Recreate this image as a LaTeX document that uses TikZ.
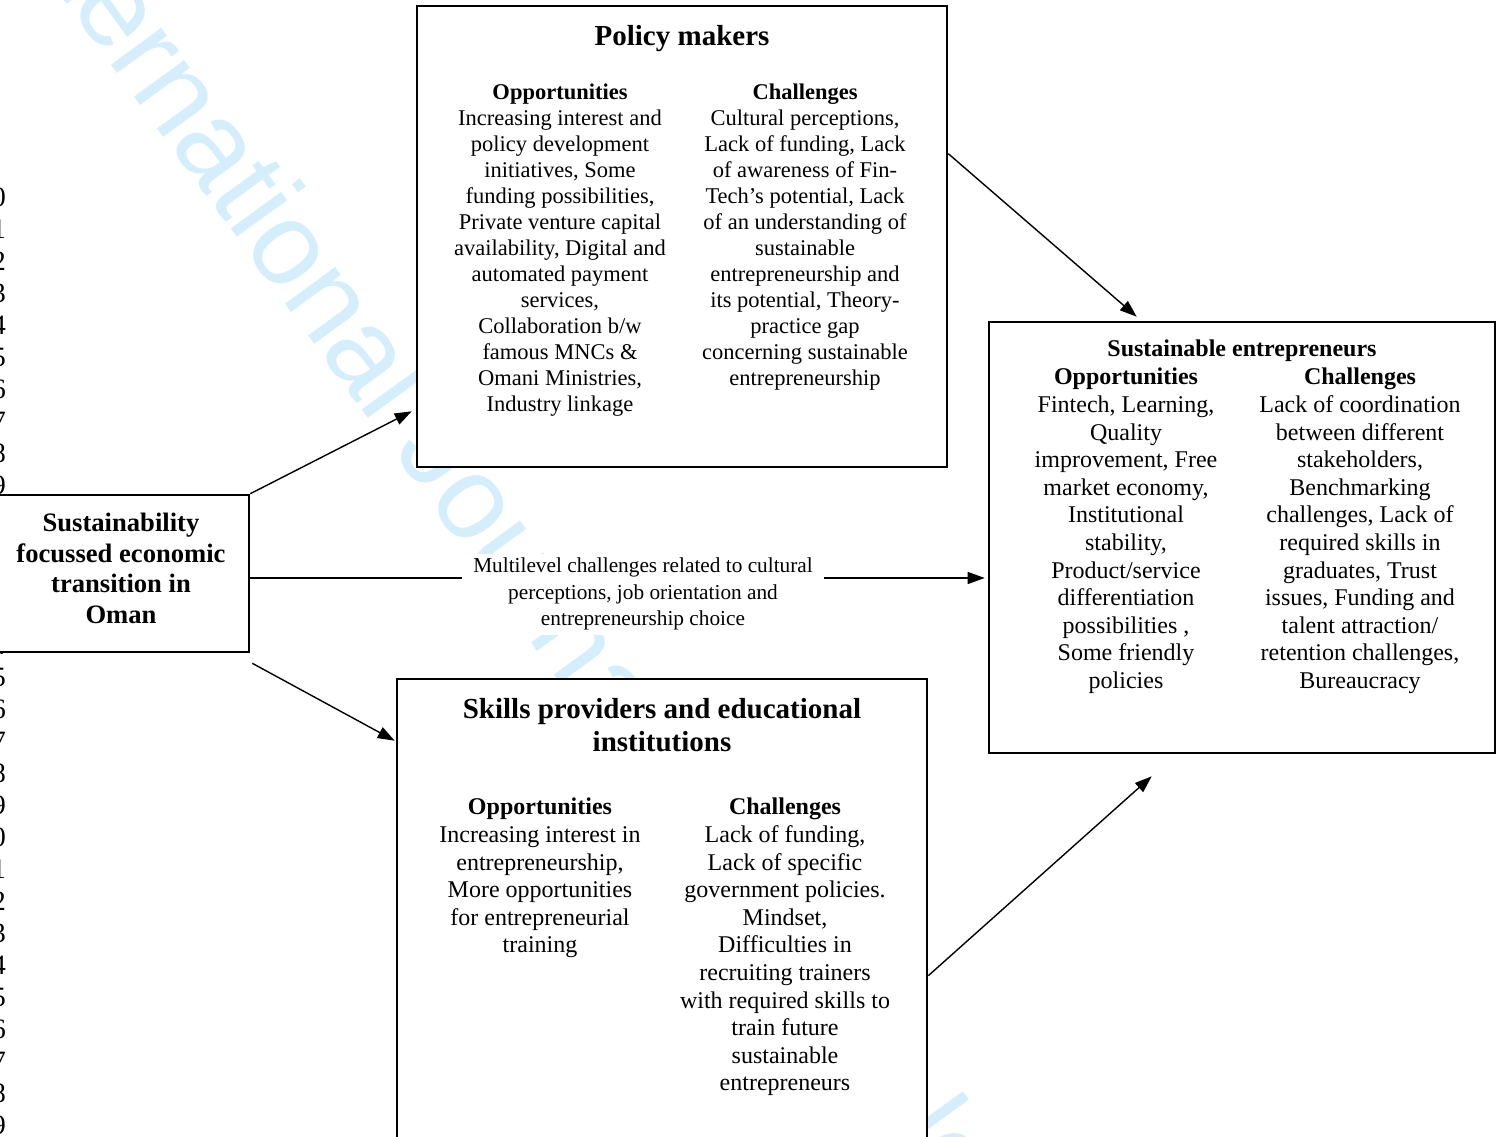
\documentclass[tikz,border=0pt]{standalone}
\usepackage{fontspec}
\setmainfont{Liberation Serif}
\newfontfamily\wmfont{Liberation Sans}
\usetikzlibrary{arrows.meta,calc}
\definecolor{wmblue}{RGB}{213,238,251}
\begin{document}
\begin{tikzpicture}[x=1pt,y=-1pt,
  box/.style={draw,line width=2.6pt,fill=white,inner sep=0},
  col/.style={align=center,inner sep=0,anchor=north},
  fpol/.style={font=\fontsize{22.5}{26}\selectfont},
  fbig/.style={font=\fontsize{24}{27.6}\selectfont},
  ftitle/.style={font=\bfseries\fontsize{29}{33}\selectfont},
  conn/.style={line width=1.4pt,-{Triangle[length=17pt,width=12pt]}},
  plain/.style={line width=1.4pt}]
\useasboundingbox (0,0) rectangle (1501,1137);
\clip (0,0) rectangle (1501,1137);
% watermark
\node[anchor=base west,rotate=-54,text=wmblue,inner sep=0,
  font=\wmfont\fontsize{118}{118}\selectfont] (wm) at (-9,-101)
  {International Journal of Sociology and Social Policy};
% line numbers
\foreach \i in {0,...,29}{
  \pgfmathtruncatemacro\d{mod(\i,10)}
  \node[anchor=east,inner sep=0,font=\fontsize{28}{28}\selectfont] (ln\i) at (6,{197+32*\i}) {\d};
}
% boxes
\node[box,minimum width=530pt,minimum height=461pt] (pm) at (682,236.5) {};
\node[box,minimum width=506pt,minimum height=431pt] (se) at (1242,537.5) {};
\node[box,minimum width=530pt,minimum height=481pt] (sk) at (662,919.5) {};
\node[box,minimum width=254pt,minimum height=157pt] (lb) at (122,573.5) {};
% policy makers
\node[col,ftitle] (pmt) at (682,24.7) {Policy makers};
\node[col,fpol] (pmo) at (560,83.6) {\textbf{Opportunities}\\Increasing interest and\\policy development\\initiatives, Some\\funding possibilities,\\Private venture capital\\availability, Digital and\\automated payment\\services,\\Collaboration b/w\\famous MNCs \&\\Omani Ministries,\\Industry linkage};
\node[col,fpol] (pmc) at (805,83.6) {\textbf{Challenges}\\Cultural perceptions,\\Lack of funding, Lack\\of awareness of Fin-\\Tech’s potential, Lack\\of an understanding of\\sustainable\\entrepreneurship and\\its potential, Theory-\\practice gap\\concerning sustainable\\entrepreneurship};
% sustainable entrepreneurs
\node[col,fbig] (set) at (1242,340) {\textbf{Sustainable entrepreneurs}};
\node[col,fbig] (seo) at (1126,368) {\textbf{Opportunities}\\Fintech, Learning,\\Quality\\improvement, Free\\market economy,\\Institutional\\stability,\\Product/service\\differentiation\\possibilities ,\\Some friendly\\policies};
\node[col,fbig] (sec) at (1360,368) {\textbf{Challenges}\\Lack of coordination\\between different\\stakeholders,\\Benchmarking\\challenges, Lack of\\required skills in\\graduates, Trust\\issues, Funding and\\talent attraction/\\retention challenges,\\Bureaucracy};
% skills providers
\node[col,ftitle] (skt) at (662,697.7) {Skills providers and educational\\institutions};
\node[col,fbig] (sko) at (540,798) {\textbf{Opportunities}\\Increasing interest in\\entrepreneurship,\\More opportunities\\for entrepreneurial\\training};
\node[col,fbig] (skc) at (785,798) {\textbf{Challenges}\\Lack of funding,\\Lack of specific\\government policies.\\Mindset,\\Difficulties in\\recruiting trainers\\with required skills to\\train future\\sustainable\\entrepreneurs};
% left box
\node[col,font=\bfseries\fontsize{26.6}{30.7}\selectfont] (lbt) at (121,512.8) {Sustainability\\focussed economic\\transition in\\Oman};
% middle label
\node[align=center,anchor=north,fill=white,inner xsep=11pt,inner ysep=4pt,
  font=\fontsize{21.3}{26.5}\selectfont] (lab) at (643,554)
  {Multilevel challenges related to cultural\\perceptions, job orientation and\\entrepreneurship choice};
% connectors
\coordinate (mid) at (0,578);
\draw[plain] (lb.east |- mid) -- (lab.west |- mid);
\draw[conn] (lab.east |- mid) -- ([xshift=-3pt]se.west |- mid);
\draw[conn] (lb.north east) -- ([xshift=-4pt,yshift=57pt]pm.south west);
\draw[conn] ([xshift=2pt,yshift=-10pt]lb.south east) -- ([xshift=-1pt,yshift=-63pt]sk.north west);
\draw[conn] ([yshift=-149pt]pm.north east) -- ([xshift=149pt,yshift=4pt]se.north west);
\draw[conn] ([yshift=-298pt]sk.north east) -- ([xshift=164pt,yshift=-22pt]se.south west);
\end{tikzpicture}
\end{document}
